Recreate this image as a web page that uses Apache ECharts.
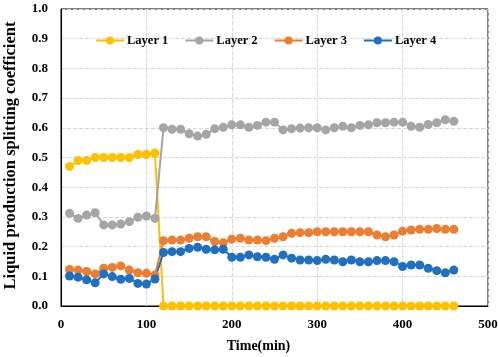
<!DOCTYPE html>
<html>
<head>
<meta charset="utf-8">
<script src="https://cdn.jsdelivr.net/npm/echarts@6/dist/echarts.min.js"></script>
<style>
  html, body { margin: 0; padding: 0; background: #fff; }
  #main { width: 498px; height: 357px; }
</style>
</head>
<body>
<div id="main"></div>
<script>
// time points (min)
var times = [10, 20, 30, 40, 50, 60, 70, 80, 90, 100, 110,
  120, 130, 140, 150, 160, 170, 180, 190, 200, 210, 220, 230, 240, 250, 260, 270, 280, 290,
  300, 310, 320, 330, 340, 350, 360, 370, 380, 390, 400, 410, 420, 430, 440, 450, 460];

var layer1 = [0.47, 0.49, 0.49, 0.50, 0.50, 0.50, 0.50, 0.50, 0.51, 0.51, 0.515,
  0, 0, 0, 0, 0, 0, 0, 0, 0, 0, 0, 0, 0, 0, 0, 0, 0, 0,
  0, 0, 0, 0, 0, 0, 0, 0, 0, 0, 0, 0, 0, 0, 0, 0, 0];

var layer2 = [0.312, 0.295, 0.306, 0.314, 0.273, 0.273, 0.276, 0.284, 0.299, 0.303, 0.295,
  0.600, 0.595, 0.595, 0.580, 0.572, 0.578, 0.597, 0.602, 0.610, 0.610, 0.602, 0.608, 0.619, 0.619, 0.593, 0.597, 0.599, 0.600,
  0.600, 0.593, 0.600, 0.605, 0.600, 0.608, 0.610, 0.617, 0.617, 0.619, 0.619, 0.605, 0.602, 0.611, 0.617, 0.627, 0.622];

var layer3 = [0.123, 0.121, 0.116, 0.108, 0.127, 0.130, 0.135, 0.121, 0.112, 0.110, 0.104,
  0.220, 0.222, 0.222, 0.228, 0.233, 0.233, 0.217, 0.213, 0.225, 0.228, 0.222, 0.222, 0.220, 0.228, 0.233, 0.245, 0.247, 0.247,
  0.250, 0.250, 0.250, 0.250, 0.250, 0.250, 0.250, 0.239, 0.233, 0.239, 0.252, 0.256, 0.258, 0.258, 0.261, 0.258, 0.258];

var layer4 = [0.101, 0.097, 0.088, 0.078, 0.108, 0.099, 0.090, 0.093, 0.076, 0.074, 0.091,
  0.180, 0.183, 0.183, 0.194, 0.198, 0.191, 0.189, 0.191, 0.164, 0.164, 0.172, 0.166, 0.164, 0.157, 0.172, 0.161, 0.155, 0.155,
  0.153, 0.157, 0.155, 0.149, 0.155, 0.149, 0.149, 0.153, 0.153, 0.149, 0.133, 0.138, 0.138, 0.127, 0.119, 0.112, 0.121];

var names = ['Layer 1', 'Layer 2', 'Layer 3', 'Layer 4'];
var colors = ['#FFC000', '#A5A5A5', '#ED7D31', '#1F70C1'];

function pairs(vals) {
  return times.map(function (t, i) { return [t, vals[i]]; });
}

var chart = echarts.init(document.getElementById('main'), null, { renderer: 'canvas' });

var font = 'Liberation Serif';
var makeSeries = function (name, vals, color) {
  return {
    name: name,
    type: 'line',
    data: pairs(vals),
    symbol: 'circle',
    symbolSize: 9,
    itemStyle: { color: color },
    lineStyle: { color: color, width: 2 },
    animation: false
  };
};

var option = {
  backgroundColor: '#fff',
  color: colors,
  legend: {
    data: names,
    top: 29,
    left: 90,
    itemGap: 16,
    itemWidth: 28,
    itemHeight: 10,
    textStyle: { fontFamily: font, fontWeight: 'bold', fontSize: 12.5, color: '#000', padding: [0, 0, 0, -2] }
  },
  grid: {
    left: 61, right: 10, top: 9, bottom: 51,
    outerBoundsMode: 'none',
    show: true, borderColor: '#000', borderWidth: 1
  },
  xAxis: {
    type: 'value',
    min: 0, max: 500, interval: 100,
    name: 'Time(min)',
    nameLocation: 'middle',
    nameGap: 33,
    nameTextStyle: { fontFamily: font, fontWeight: 'bold', fontSize: 14, color: '#000', padding: [0, 32, 0, 0] },
    axisLine: { show: true, lineStyle: { color: '#000' } },
    axisTick: { show: false },
    axisLabel: { fontFamily: font, fontWeight: 'bold', fontSize: 13, color: '#000', margin: 12 },
    splitLine: { show: true, lineStyle: { color: '#d6d6d6', type: 'dashed' } }
  },
  yAxis: {
    type: 'value',
    min: 0, max: 1, interval: 0.1,
    name: 'Liquid production splitting coefficient',
    nameLocation: 'middle',
    nameGap: 42,
    nameTextStyle: { fontFamily: font, fontWeight: 'bold', fontSize: 16.5, color: '#000', padding: [0, 0, 0, 4] },
    axisLine: { show: true, lineStyle: { color: '#000' } },
    axisTick: { show: false },
    axisLabel: {
      fontFamily: font, fontWeight: 'bold', fontSize: 13, color: '#000', margin: 13,
      formatter: function (v) { return v.toFixed(1); }
    },
    splitLine: { show: true, lineStyle: { color: '#d6d6d6', type: 'dashed' } }
  },
  series: [
    makeSeries(names[0], layer1, colors[0]),
    makeSeries(names[1], layer2, colors[1]),
    makeSeries(names[2], layer3, colors[2]),
    makeSeries(names[3], layer4, colors[3])
  ]
};

chart.setOption(option);
</script>
</body>
</html>
